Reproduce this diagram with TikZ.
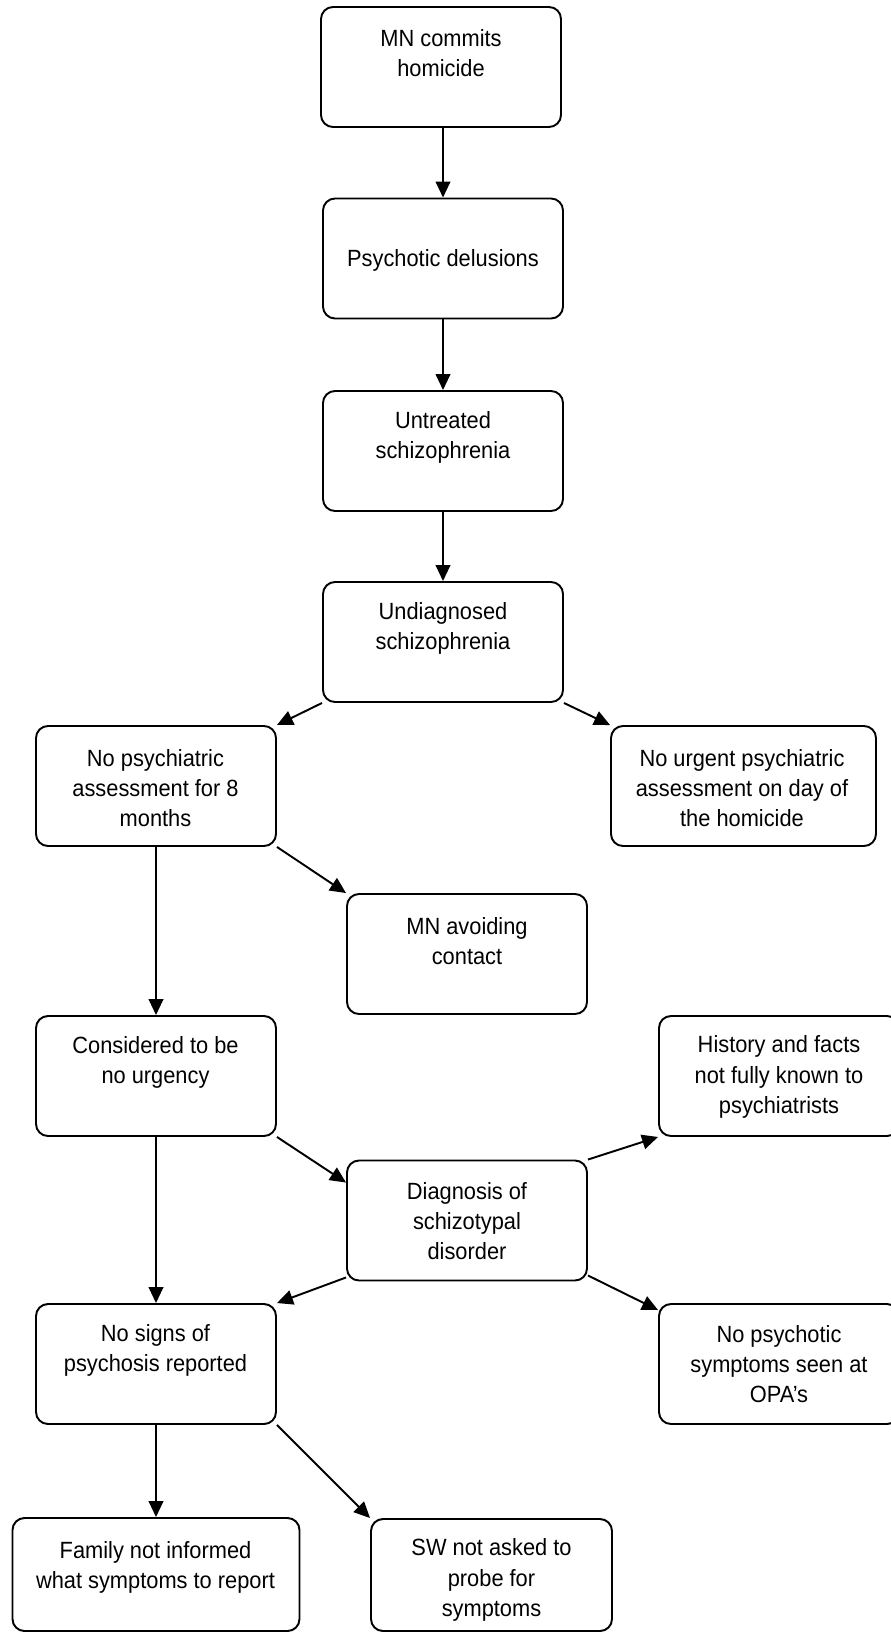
\documentclass[tikz,border=0pt]{standalone}
\usepackage{fontspec}
\setmainfont{Liberation Sans}
\newfontfamily\boxfont[FakeStretch=0.93]{Liberation Sans}
\usetikzlibrary{arrows.meta,calc}
\begin{document}
\begin{tikzpicture}[x=0.75pt,y=-0.75pt,
  box/.style={draw, line width=1.45pt, rounded corners=9pt, inner sep=0pt},
  bw/.style={minimum width=180pt, minimum height=90pt},
  txt/.style={align=center, inner sep=0pt, font=\boxfont\fontsize{17.6pt}{22.6pt}\selectfont},
  arr/.style={line width=1.45pt, -{Triangle[length=12pt,width=11pt]}}]
\useasboundingbox (0,0) rectangle (891,1633);
\clip (0,0) rectangle (891,1633);
% boxes
\node[box,bw] (b1) at (441,67) {};
\node[box,bw] (b2) at (443,258.5) {};
\node[box,bw] (b3) at (443,451) {};
\node[box,bw] (b4) at (443,642) {};
\node[box,bw] (b5) at (156,786) {};
\node[box,minimum width=198.75pt,minimum height=90pt] (b6) at (743.5,786) {};
\node[box,bw] (b7) at (467,954) {};
\node[box,bw] (b8) at (156,1076) {};
\node[box,bw] (b9) at (779,1076) {};
\node[box,bw] (b10) at (467,1220.5) {};
\node[box,bw] (b11) at (156,1364) {};
\node[box,bw] (b12) at (779,1364) {};
\node[box,minimum width=215.25pt,minimum height=84.75pt] (b13) at (156,1574.5) {};
\node[box,minimum width=180.75pt,minimum height=84pt] (b14) at (491.5,1575) {};
% texts
\node[txt] (t1) at (441,53) {MN commits\\homicide};
\node[txt] (t2) at (443,260) {Psychotic delusions};
\node[txt] (t3) at (443,437) {Untreated\\schizophrenia};
\node[txt] (t4) at (443,628) {Undiagnosed\\schizophrenia};
\node[txt] (t5) at (155.5,788) {No psychiatric\\assessment for 8\\months};
\node[txt] (t6) at (742,788) {No urgent psychiatric\\assessment on day of\\the homicide};
\node[txt] (t7) at (467,941) {MN avoiding\\contact};
\node[txt] (t8) at (155.5,1062) {Considered to be\\no urgency};
\node[txt] (t9) at (779,1077) {History and facts\\not fully known to\\psychiatrists};
\node[txt] (t10) at (467,1221) {Diagnosis of\\schizotypal\\disorder};
\node[txt] (t11) at (155.5,1350) {No signs of\\psychosis reported};
\node[txt] (t12) at (779,1364) {No psychotic\\symptoms seen at\\OPA’s};
\node[txt] (t13) at (155.5,1567) {Family not informed\\what symptoms to report};
\node[txt] (t14) at (491.5,1580) {SW not asked to\\probe for\\symptoms};
% connectors
\draw[arr] (b1.south -| b2) -- (b2.north);
\draw[arr] (b2.south) -- (b3.north);
\draw[arr] (b3.south) -- (b4.north);
\draw[arr] (b4.south west) -- (b5.north east);
\draw[arr] (b4.south east) -- (b6.north west);
\draw[arr] (b5.south east) -- (b7.north west);
\draw[arr] (b5.south) -- (b8.north);
\draw[arr] (b8.south east) -- ($(b10.north west)+(0,23)$);
\draw[arr] (b10.north east) -- (b9.south west);
\draw[arr] (b8.south) -- (b11.north);
\draw[arr] ($(b10.south west)+(0,-4)$) -- (b11.north east);
\draw[arr] ($(b10.south east)+(0,-6)$) -- ($(b12.north west)+(0,7)$);
\draw[arr] (b11.south) -- (b13.north);
\draw[arr] (b11.south east) -- (b14.north west);
\end{tikzpicture}
\end{document}
